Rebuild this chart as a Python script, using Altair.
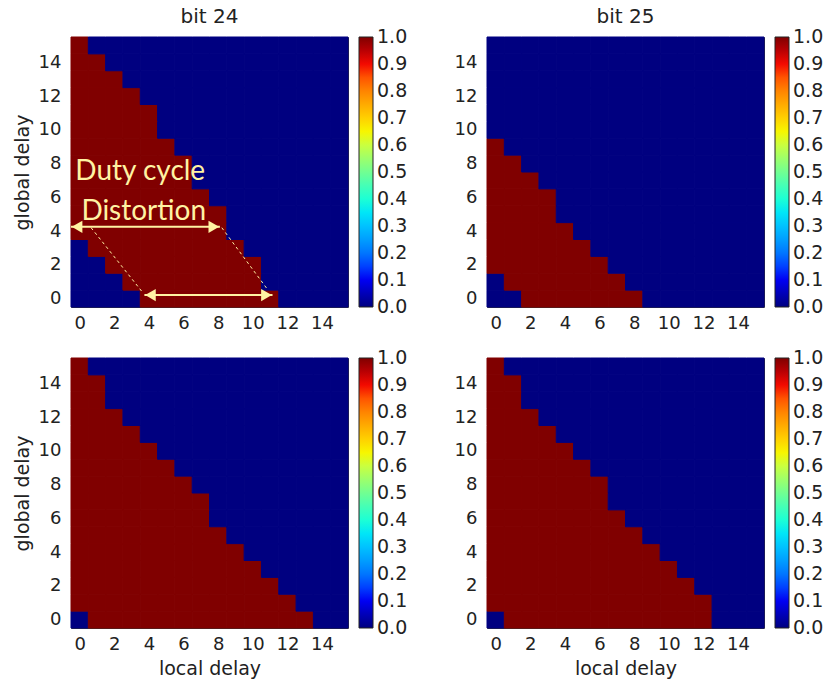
import altair as alt
import pandas as pd

N = 16
local_ticks = [0, 2, 4, 6, 8, 10, 12, 14]
global_ticks = [0, 2, 4, 6, 8, 10, 12, 14]
# colorbar ticks 0.0 ... 1.0 (ends nudged inward so the end labels stay centred on their ticks)
cbar_ticks = [0.0005, 0.1, 0.2, 0.3, 0.4, 0.5, 0.6, 0.7, 0.8, 0.9, 0.9995]

# For each global delay (row 0..15): first and last local delay whose value is 1.0
# (every other cell of the row is 0.0). 16 / -1 = no cell at 1.0 in that row.
p1_first = [4, 3, 2, 1, 0, 0, 0, 0, 0, 0, 0, 0, 0, 0, 0, 0]
p1_last = [11, 10, 10, 9, 8, 8, 7, 6, 6, 5, 4, 4, 3, 2, 1, 0]
p2_first = [2, 1, 0, 0, 0, 0, 0, 0, 0, 0, 16, 16, 16, 16, 16, 16]
p2_last = [8, 7, 6, 5, 4, 3, 3, 2, 1, 0, -1, -1, -1, -1, -1, -1]
p3_first = [1, 0, 0, 0, 0, 0, 0, 0, 0, 0, 0, 0, 0, 0, 0, 0]
p3_last = [13, 12, 11, 10, 9, 8, 7, 7, 6, 5, 4, 3, 2, 1, 1, 0]
p4_first = [1, 0, 0, 0, 0, 0, 0, 0, 0, 0, 0, 0, 0, 0, 0, 0]
p4_last = [12, 12, 11, 10, 9, 8, 7, 6, 6, 5, 4, 3, 2, 1, 1, 0]

# annotation (data coordinates of panel "bit 24")
ann_labels = ["Duty cycle", "Distortion"]
ann_label_x = [3.5, 3.7]
ann_label_y = [7.0, 4.68]
arrow_x = [-0.5, 3.74]
arrow_x2 = [8.1, 11.14]
arrow_y = [4.25, 0.21]
dash_x = [0.66, 8.21]
dash_x2 = [3.68, 10.81]
dash_y = [4.2, 4.2]
dash_y2 = [0.31, 0.6]
head_x = [-0.15, 7.75, 4.09, 10.79]
head_y = [4.25, 4.25, 0.21, 0.21]
head_shape = ["triangle-left", "triangle-right", "triangle-left", "triangle-right"]

# matplotlib "jet" colormap stops
jet_domain = [0, 0.11, 0.125, 0.34, 0.35, 0.375, 0.64, 0.65, 0.66, 0.89, 0.91, 1]
jet_range = ["#000080", "#0000ff", "#0000ff", "#00dbff", "#00e6f7", "#15ffe2",
             "#efff08", "#f7f600", "#ffec00", "#ff1300", "#e80000", "#800000"]

ANN = "#fff3a3"
W, H = 277, 270


def grid(first, last):
    rows = []
    for g in range(N):
        for l in range(N):
            rows.append({"local": l, "global": g,
                         "value": 1.0 if first[g] <= l <= last[g] else 0.0})
    return pd.DataFrame(rows)


def panel(first, last, title=None, ytitle=False, xtitle=False, annotate=False):
    xs = alt.Scale(domain=[-0.5, 15.5], nice=False, zero=False)
    ys = alt.Scale(domain=[-0.5, 15.5], nice=False, zero=False)
    xax = dict(values=local_ticks, format="d", labelFlush=False)
    yax = dict(values=global_ticks, format="d", labelFlush=False)
    xax["title"] = "local delay" if xtitle else None
    yax["title"] = "global delay" if ytitle else None
    XA = alt.Axis(**xax)
    YA = alt.Axis(**yax)
    cscale = alt.Scale(domain=jet_domain, range=jet_range)
    rect = alt.Chart(grid(first, last)).transform_calculate(
        x0="datum.local - 0.5", x1="datum.local + 0.5",
        y0="datum.global - 0.5", y1="datum.global + 0.5",
    ).mark_rect(strokeWidth=1).encode(
        x=alt.X("x0:Q", scale=xs, axis=XA),
        x2="x1:Q",
        y=alt.Y("y0:Q", scale=ys, axis=YA),
        y2="y1:Q",
        color=alt.Color("value:Q", scale=cscale, legend=alt.Legend(
            title=None, orient="right", offset=11, padding=0, type="gradient",
            gradientLength=H, gradientThickness=14, values=cbar_ticks,
            format=".1f", labelFontSize=19, labelOffset=4,
            gradientStrokeColor="#222", gradientStrokeWidth=1,
            labelOverlap=False, direction="vertical")),
        stroke=alt.condition("datum.value > 0.5", alt.value("#800000"), alt.value("#000080")),
    )
    layers = [rect]
    if annotate:
        txt = alt.Chart(pd.DataFrame({"x": ann_label_x, "y": ann_label_y, "t": ann_labels})).mark_text(
            font="Lato", fontSize=28, color=ANN, align="center", baseline="alphabetic"
        ).encode(x=alt.X("x:Q", axis=XA), y=alt.Y("y:Q", axis=YA), text="t:N")
        arr = alt.Chart(pd.DataFrame({"x": arrow_x, "x2": arrow_x2, "y": arrow_y})).mark_rule(
            color=ANN, strokeWidth=2
        ).encode(x=alt.X("x:Q", axis=XA), x2="x2:Q", y=alt.Y("y:Q", axis=YA))
        dsh = alt.Chart(pd.DataFrame({"x": dash_x, "x2": dash_x2, "y": dash_y, "y2": dash_y2})).mark_rule(
            color=ANN, strokeWidth=1, strokeDash=[3, 3]
        ).encode(x=alt.X("x:Q", axis=XA), x2="x2:Q", y=alt.Y("y:Q", axis=YA), y2="y2:Q")
        hd = alt.Chart(pd.DataFrame({"x": head_x, "y": head_y, "s": head_shape})).mark_point(
            filled=True, size=150, color=ANN, opacity=1
        ).encode(x=alt.X("x:Q", axis=XA), y=alt.Y("y:Q", axis=YA),
                 shape=alt.Shape("s:N", scale=None))
        layers += [txt, arr, dsh, hd]
    props = dict(width=W, height=H)
    if title:
        props["title"] = title
    return alt.layer(*layers).properties(**props)


p1 = panel(p1_first, p1_last, title="bit 24", ytitle=True, annotate=True)
p2 = panel(p2_first, p2_last, title="bit 25")
p3 = panel(p3_first, p3_last, ytitle=True, xtitle=True)
p4 = panel(p4_first, p4_last, xtitle=True)

chart = alt.concat(
    p1, p2, p3, p4, columns=2, spacing={"row": 51, "column": 139}, bounds="flush"
).resolve_scale(color="independent").resolve_legend(color="independent").properties(
    padding={"left": 12, "top": 6, "right": 0, "bottom": 0}
).configure_view(
    stroke="#333", strokeWidth=1
).configure_axis(
    labelFont="DejaVu Sans", titleFont="DejaVu Sans", labelFontSize=18, titleFontSize=19,
    labelColor="#222", titleColor="#222", ticks=False, domain=False, grid=False,
    titlePadding=6, titleFontWeight="normal"
).configure_axisX(
    labelPadding=7
).configure_axisY(
    labelPadding=10
).configure_legend(
    labelFont="DejaVu Sans", labelColor="#222"
).configure_title(
    font="DejaVu Sans", fontSize=20, fontWeight="normal", color="#222", offset=10
)

chart.save("out.html", embed_options={"renderer": "svg", "actions": False})
